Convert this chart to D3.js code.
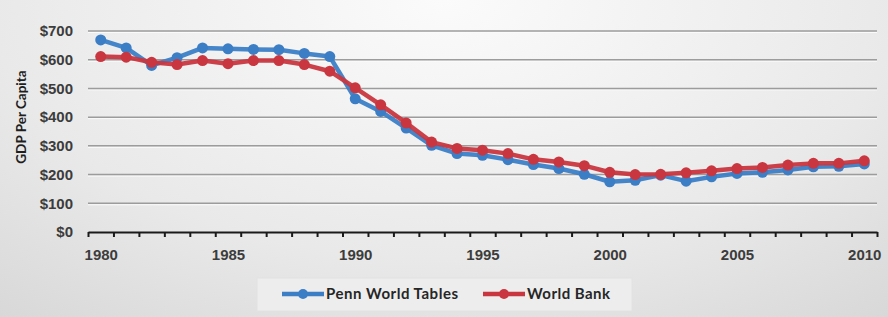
<!DOCTYPE html>
<html>
<head>
<meta charset="utf-8">
<script src="https://cdn.jsdelivr.net/npm/d3@7"></script>
<style>
  body { margin: 0; background: #fff; }
  svg { display: block; font-family: Lato, "Open Sans", sans-serif; }
  .grid line { stroke: #9c9c9c; stroke-width: 1.5; }
  .grid .shadow { stroke: #fbfbfb; stroke-width: 1; }
  .tick text { fill: #3c3c3c; font-weight: bold; }
</style>
</head>
<body>
<div id="chart"></div>
<script>
'use strict';

let years = d3.range(1980, 2011);
let pennWorld = [669, 641, 580, 607, 641, 638, 636, 635, 622, 611,
                 464, 420, 362, 302, 273, 267, 252, 235, 221, 201,
                 175, 180, 198, 177, 192, 204, 208, 216, 227, 229, 237];
let worldBank = [611, 609, 591, 583, 597, 586, 597, 597, 583, 560,
                 502, 443, 380, 313, 291, 285, 273, 253, 244, 231,
                 208, 200, 201, 206, 213, 221, 225, 233, 239, 239, 248];
let yTicks = [0, 100, 200, 300, 400, 500, 600, 700];
let labelYears = [1980, 1985, 1990, 1995, 2000, 2005, 2010];
let seriesNames = ['Penn World Tables', 'World Bank'];
let seriesColors = ['#3b7ec6', '#c9363f'];

let w = 888, h = 317;
let svg = d3.select('#chart').append('svg').attr('width', w).attr('height', h);

// background, excel-ish gradient
let defs = svg.append('defs');
let grad = defs.append('radialGradient').attr('id', 'bg')
    .attr('cx', '50%').attr('cy', '0%').attr('r', '85%')
    .attr('gradientTransform', 'translate(0.5,0) scale(1,1.6) translate(-0.5,0)');
grad.append('stop').attr('offset', '0%').attr('stop-color', '#fbfbfb');
grad.append('stop').attr('offset', '60%').attr('stop-color', '#e9e9e9');
grad.append('stop').attr('offset', '100%').attr('stop-color', '#d5d5d5');
svg.append('rect').attr('width', w).attr('height', h).attr('fill', 'url(#bg)');

let plot = {left: 88, right: 877, top: 31, bottom: 232};
let x = d3.scaleLinear().domain([1979.5, 2010.5]).range([plot.left, plot.right]);
let y = d3.scaleLinear().domain([0, 700]).range([plot.bottom, plot.top]);

// gridlines
let grid = svg.append('g').attr('class', 'grid');
grid.selectAll('.shadow').data(yTicks.filter(d => d > 0)).enter().append('line')
    .attr('class', 'shadow')
    .attr('x1', plot.left).attr('x2', plot.right)
    .attr('y1', d => y(d) + 1.5).attr('y2', d => y(d) + 1.5);
grid.selectAll('.gl').data(yTicks.filter(d => d > 0)).enter().append('line')
    .attr('class', 'gl')
    .attr('x1', plot.left).attr('x2', plot.right)
    .attr('y1', d => y(d)).attr('y2', d => y(d));

// y axis labels
let yAxis = d3.axisLeft(y).tickValues(yTicks).tickSize(0).tickPadding(15)
    .tickFormat(d => '$' + d);
svg.append('g').attr('transform', 'translate(' + plot.left + ',0)').call(yAxis)
    .call(g => g.select('.domain').remove())
    .selectAll('text').style('font-size', '15px');

// x axis: tick marks at category edges, labels every 5 years
let xTickAxis = d3.axisBottom(x).tickValues(d3.range(1979.5, 2011, 1)).tickSize(5)
    .tickFormat('').tickSizeOuter(0);
svg.append('g').attr('transform', 'translate(0,' + plot.bottom + ')').call(xTickAxis)
    .call(g => g.select('.domain').attr('stroke', '#1a1a1a').attr('stroke-width', 2.2))
    .call(g => g.selectAll('.tick line').attr('stroke', '#1a1a1a').attr('stroke-width', 2));

let xLabelAxis = d3.axisBottom(x).tickValues(labelYears).tickSize(0).tickPadding(17)
    .tickFormat(d3.format('d'));
svg.append('g').attr('transform', 'translate(0,' + plot.bottom + ')').call(xLabelAxis)
    .call(g => g.select('.domain').remove())
    .selectAll('text').style('font-size', '15px');

// y axis title
svg.append('text')
    .attr('transform', 'translate(26,117)rotate(-90)')
    .attr('text-anchor', 'middle')
    .style('font-size', '13.5px').style('font-weight', 'bold').attr('fill', '#1e1e1e')
    .text('GDP Per Capita');

// series
let series = [pennWorld, worldBank];
let line = d3.line().x((d, i) => x(years[i])).y(d => y(d));
series.forEach(function (vals, k) {
    let g = svg.append('g');
    g.append('path').datum(vals)
        .attr('d', line).attr('fill', 'none')
        .attr('stroke', seriesColors[k]).attr('stroke-width', 4.5)
        .attr('stroke-linejoin', 'round').attr('opacity', 0.95);
    g.selectAll('circle').data(vals).enter().append('circle')
        .attr('cx', (d, i) => x(years[i]))
        .attr('cy', d => y(d))
        .attr('r', 5.5)
        .attr('fill', seriesColors[k]);
});

// legend
let legend = svg.append('g');
legend.append('rect').attr('x', 257).attr('y', 278).attr('width', 375).attr('height', 33)
    .attr('fill', '#ededed').attr('stroke', '#e2e2e2');
let legendX = [282, 483];
seriesNames.forEach(function (name, k) {
    let lx = legendX[k];
    legend.append('line').attr('x1', lx).attr('x2', lx + 42).attr('y1', 294).attr('y2', 294)
        .attr('stroke', seriesColors[k]).attr('stroke-width', 4.5);
    legend.append('circle').attr('cx', lx + 21).attr('cy', 294).attr('r', 5).attr('fill', seriesColors[k]);
    legend.append('text').attr('x', lx + 44).attr('y', 299)
        .style('font-size', '15px').style('font-weight', 'bold').attr('fill', '#262626')
        .attr('textLength', k === 0 ? 132 : 83)
        .text(name);
});
</script>
</body>
</html>
